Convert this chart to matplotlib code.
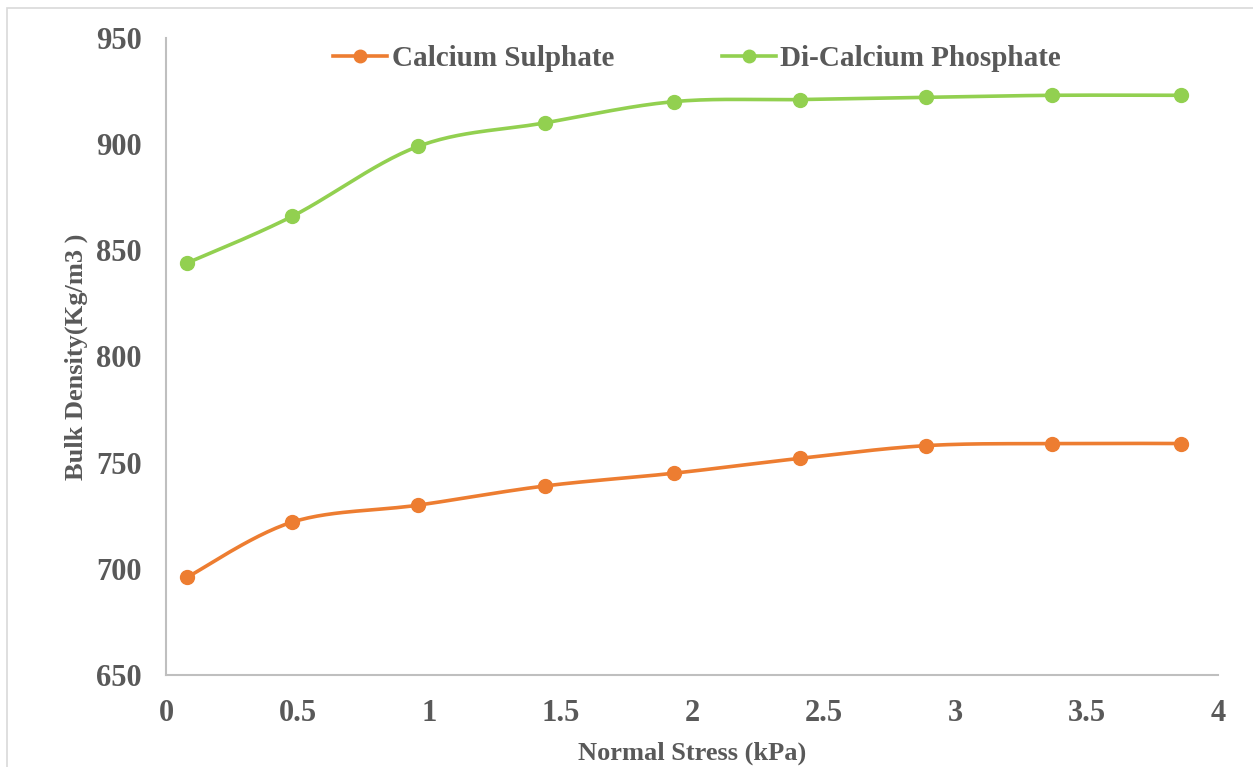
import matplotlib.pyplot as plt
import matplotlib.patches as mpatches
import numpy as np

stress = [0.08, 0.48, 0.96, 1.44, 1.93, 2.41, 2.89, 3.37, 3.86]
sulphate = [696, 722, 730, 739, 745, 752, 758, 759, 759]
phosphate = [844, 866, 899, 910, 920, 921, 922, 923, 923]

plt.rcParams['font.family'] = ['Liberation Serif', 'DejaVu Serif']
plt.rcParams['font.weight'] = 'bold'
grey = '#595959'


def smooth(x, y, n=30):
    # cubic bezier through the points, control points as in catmull-rom
    x = np.asarray(x, float)
    y = np.asarray(y, float)
    px = np.concatenate([[x[0]], x, [x[-1]]])
    py = np.concatenate([[y[0]], y, [y[-1]]])
    t = np.linspace(0, 1, n)
    xs, ys = [], []
    for i in range(1, len(x)):
        p0 = np.array([px[i], py[i]])
        p3 = np.array([px[i + 1], py[i + 1]])
        c1 = p0 + (p3 - np.array([px[i - 1], py[i - 1]])) / 6
        c2 = p3 - (np.array([px[i + 2], py[i + 2]]) - p0) / 6
        b = ((1 - t) ** 3)[:, None] * p0 + (3 * (1 - t) ** 2 * t)[:, None] * c1 \
            + (3 * (1 - t) * t ** 2)[:, None] * c2 + (t ** 3)[:, None] * p3
        xs.append(b[:, 0])
        ys.append(b[:, 1])
    return np.concatenate(xs), np.concatenate(ys)


fig = plt.figure(figsize=(12.53, 7.67), dpi=100)
ax = fig.add_axes([0.1325, 0.12, 0.8395, 0.8305])

for y, c, name in [(sulphate, '#ED7D31', 'Calcium Sulphate'),
                   (phosphate, '#92D050', 'Di-Calcium Phosphate')]:
    sx, sy = smooth(stress, y)
    ax.plot(sx, sy, color=c, lw=2.6, solid_capstyle='round', zorder=2)
    ax.plot(stress, y, 'o', color=c, ms=10, zorder=3)
    ax.plot([], [], '-o', color=c, lw=2.6, ms=9, label=name)

ax.set_xlim(0, 4)
ax.set_ylim(650, 950)
ax.set_xticks(np.arange(0, 4.01, 0.5))
ax.set_xticklabels(['0', '0.5', '1', '1.5', '2', '2.5', '3', '3.5', '4'])
ax.set_yticks(np.arange(650, 951, 50))
ax.tick_params(length=0, labelsize=22, labelcolor=grey)
ax.tick_params(axis='x', pad=17)
ax.tick_params(axis='y', pad=17.5)
for s in ['top', 'right']:
    ax.spines[s].set_visible(False)
for s in ['left', 'bottom']:
    ax.spines[s].set_color('#BFBFBF')
    ax.spines[s].set_linewidth(1.5)

ax.set_xlabel('Normal Stress (kPa)', fontsize=19, color=grey,
              fontweight='bold', labelpad=10)
ax.set_ylabel('Bulk Density(Kg/m3 )', fontsize=19, color=grey,
              fontweight='bold', labelpad=6)

ax.legend(loc='upper center', bbox_to_anchor=(0.505, 1.03), ncol=2, frameon=False,
          fontsize=21, labelcolor=grey, handlelength=1.85, columnspacing=3.7,
          handletextpad=0.15)

fig.patches.append(mpatches.Rectangle((7 / 1253, -0.05), 1.1, 1 - 8 / 767 + 0.05,
                                      transform=fig.transFigure, fill=False,
                                      edgecolor='#D9D9D9', lw=1.2))

fig.savefig('out.png', dpi=100)
